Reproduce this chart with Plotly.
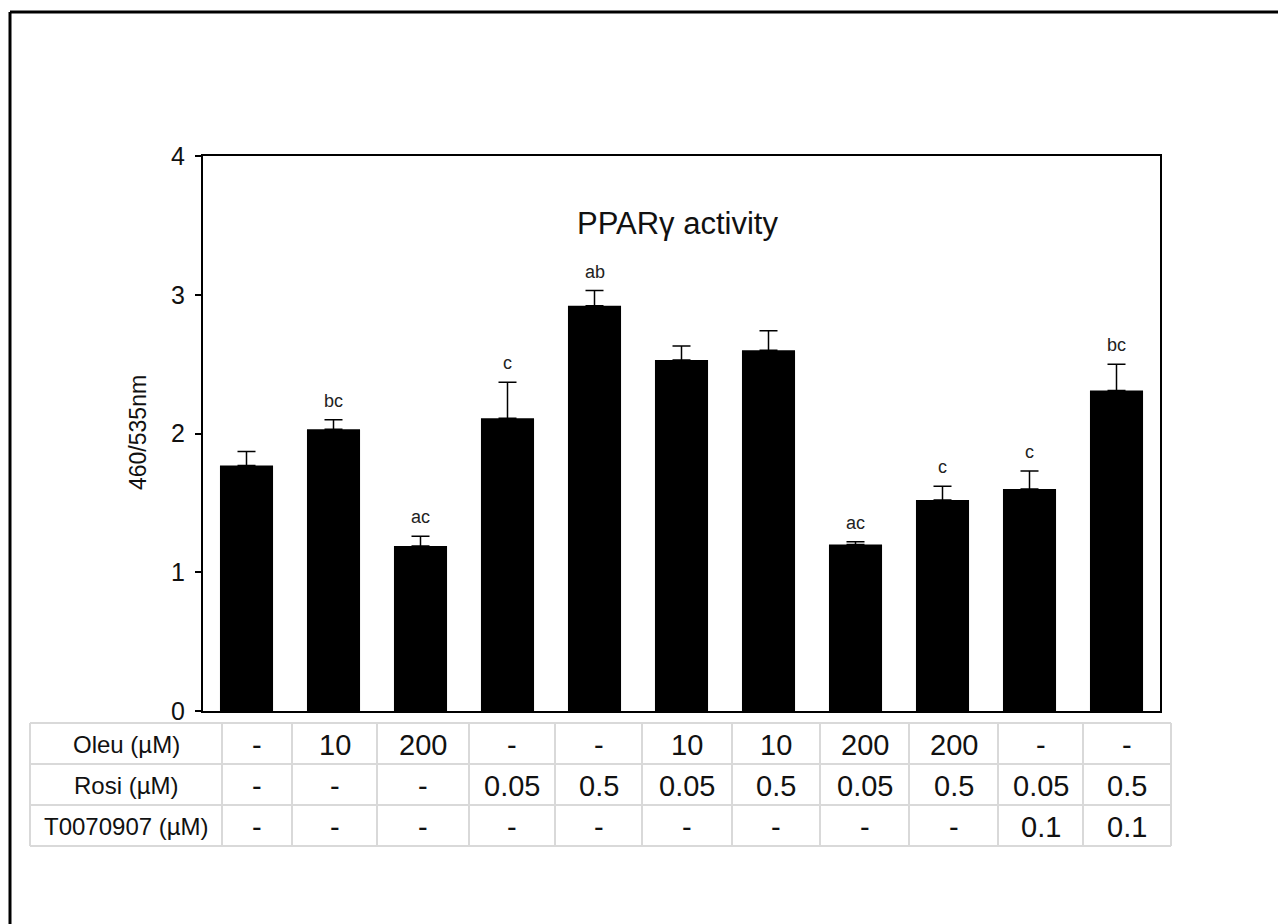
import plotly.graph_objects as go

# ---------------- data ----------------
groups = ["G1", "G2", "G3", "G4", "G5", "G6", "G7", "G8", "G9", "G10", "G11"]
ratio_460_535 = [1.77, 2.03, 1.19, 2.11, 2.92, 2.53, 2.60, 1.20, 1.52, 1.60, 2.31]
sem = [0.10, 0.07, 0.07, 0.26, 0.11, 0.10, 0.14, 0.02, 0.10, 0.13, 0.19]
letters = ["", "bc", "ac", "c", "ab", "", "", "ac", "c", "c", "bc"]

row_labels = ["Oleu (µM)", "Rosi (µM)", "T0070907 (µM)"]
oleu = ["-", "10", "200", "-", "-", "10", "10", "200", "200", "-", "-"]
rosi = ["-", "-", "-", "0.05", "0.5", "0.05", "0.5", "0.05", "0.5", "0.05", "0.5"]
t007 = ["-", "-", "-", "-", "-", "-", "-", "-", "-", "0.1", "0.1"]
table_rows = [oleu, rosi, t007]

y_ticks = [0, 1, 2, 3, 4]
title_text = "PPARγ activity"
y_title = "460/535nm"

# ---------------- layout geometry (pixels) ----------------
W, H = 1278, 924
L, R, T, B = 203, 1160, 156, 711
FONT = "Liberation Sans, Arial, sans-serif"


def px(x):
    return (x - L) / (R - L)


def py(y):
    return (B - y) / (B - T)


fig = go.Figure()
fig.add_trace(go.Bar(
    x=groups, y=ratio_460_535,
    marker=dict(color="black", line=dict(width=0)),
    error_y=dict(type="data", symmetric=False, array=sem,
                 arrayminus=[0] * len(sem), color="black",
                 thickness=1.5, width=9),
    width=0.61,
    showlegend=False,
))

annotations = []
# significance letters
for g, v, e, t in zip(groups, ratio_460_535, sem, letters):
    if t:
        annotations.append(dict(x=g, y=v + e, xref="x", yref="y", text=t,
                                showarrow=False, xanchor="center", yanchor="bottom",
                                yshift=7,
                                font=dict(family=FONT, size=18, color="#222")))

# title inside plot
annotations.append(dict(x=px(677), y=py(223), xref="paper", yref="paper",
                        text=title_text, showarrow=False,
                        xanchor="center", yanchor="middle",
                        font=dict(family=FONT, size=31, color="#111")))
# y-axis title
annotations.append(dict(x=px(138), y=py(433), xref="paper", yref="paper",
                        text=y_title, showarrow=False, textangle=-90,
                        xanchor="center", yanchor="middle",
                        font=dict(family=FONT, size=23, color="#111")))

# table
col_edges = [30, 222, 292, 377, 469, 555, 642, 732, 820, 909, 998, 1083, 1171]
row_edges = [723, 764, 805, 846]
shapes = []
grid = dict(color="#d9d9d9", width=2)
for xe in col_edges:
    shapes.append(dict(type="line", xref="paper", yref="paper",
                       x0=px(xe), x1=px(xe), y0=py(row_edges[0]), y1=py(row_edges[-1]),
                       line=grid, layer="below"))
for ye in row_edges:
    shapes.append(dict(type="line", xref="paper", yref="paper",
                       x0=px(col_edges[0]), x1=px(col_edges[-1]), y0=py(ye), y1=py(ye),
                       line=grid, layer="below"))

for r, (lab, vals) in enumerate(zip(row_labels, table_rows)):
    yc = (row_edges[r] + row_edges[r + 1]) / 2 + 1
    annotations.append(dict(x=px((col_edges[0] + col_edges[1]) / 2), y=py(yc),
                            xref="paper", yref="paper", text=lab, showarrow=False,
                            xanchor="center", yanchor="middle",
                            font=dict(family=FONT, size=24, color="#111")))
    for c, v in enumerate(vals):
        xc = (col_edges[c + 1] + col_edges[c + 2]) / 2
        annotations.append(dict(x=px(xc), y=py(yc), xref="paper", yref="paper",
                                text=v, showarrow=False,
                                xanchor="center", yanchor="middle",
                                font=dict(family=FONT, size=29, color="#111")))

# outer frame (top and left edges)
frame = dict(color="black", width=3)
shapes.append(dict(type="line", xref="paper", yref="paper",
                   x0=px(10), x1=px(W + 5), y0=py(12), y1=py(12), line=frame))
shapes.append(dict(type="line", xref="paper", yref="paper",
                   x0=px(10), x1=px(10), y0=py(12), y1=py(H + 5), line=frame))

fig.update_layout(
    width=W, height=H,
    margin=dict(l=L, r=W - R, t=T, b=H - B, pad=0),
    paper_bgcolor="white", plot_bgcolor="white",
    bargap=0.39,
    annotations=annotations,
    shapes=shapes,
    font=dict(family=FONT, color="black"),
    xaxis=dict(showticklabels=False, ticks="", showgrid=False, zeroline=False,
               showline=True, linecolor="black", linewidth=2, mirror=True),
    yaxis=dict(range=[0, 4], tickvals=y_ticks, ticks="outside", ticklen=6,
               tickwidth=1.5, tickcolor="black", showgrid=False, zeroline=False,
               showline=True, linecolor="black", linewidth=2, mirror=True,
               ticklabelstandoff=5,
               tickfont=dict(family=FONT, size=25, color="#111")),
)

fig.write_html("out.html")
